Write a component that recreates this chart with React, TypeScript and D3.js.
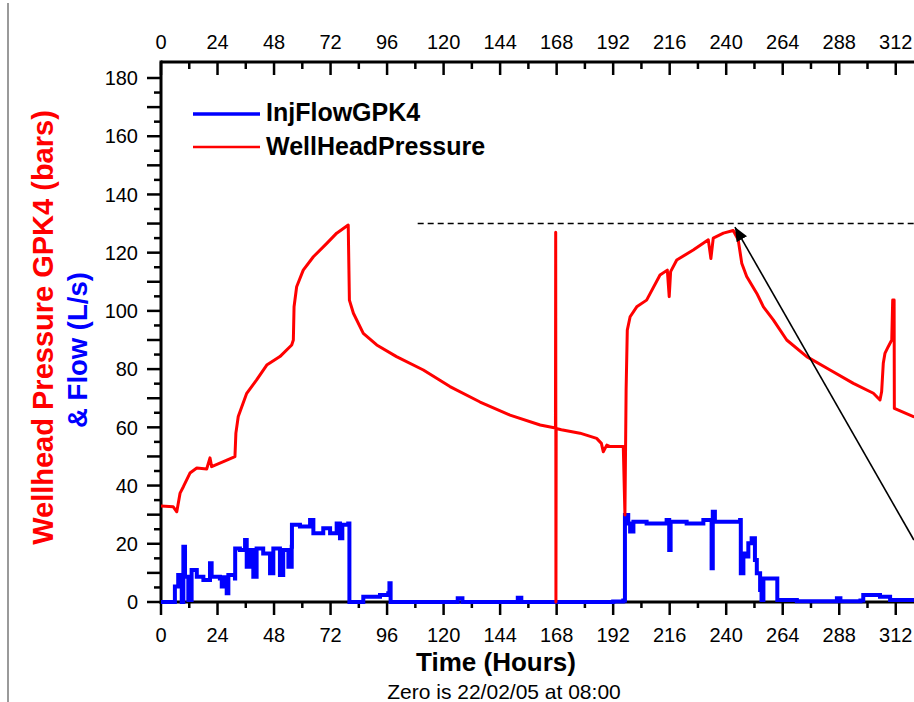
import React from "react";
import * as d3 from "d3";

// ---- data ----
const pressureHours = [0, 5.2, 6.7, 8.1, 9.5, 12.3, 15.2, 19.4, 20.8, 21.5, 26.5, 31.4, 31.8, 32.8, 36.4, 40.6, 44.9, 50.5, 55.5, 56.2, 56.5, 57.6, 60.4, 64.7, 70.4, 74.6, 79.5, 80, 81.7, 85.9, 91.6, 100, 111.4, 122.7, 135.5, 148.2, 161, 167.5, 167.6, 167.7, 167.8, 170, 177.9, 185, 187, 187.8, 189.3, 190.7, 196.3, 197, 197.5, 198, 199.2, 202, 206.2, 211.9, 215, 215.8, 216.4, 219, 226, 232.4, 233.5, 234.5, 238.8, 243, 245.1, 246.6, 248.7, 253, 255.8, 260, 265.7, 274.2, 284.1, 294, 302.5, 305.3, 306, 306.7, 307.4, 308.8, 310.3, 310.7, 311.3, 311.4, 319.5, 322];
const pressureValues = [33.0, 32.7, 31.0, 37.4, 39.6, 44.3, 46.0, 45.7, 49.5, 46.5, 48.2, 49.9, 58, 63.7, 71.7, 76.3, 81.4, 84.3, 88.3, 90, 101.4, 108.3, 114, 118.6, 123.2, 126.7, 129.5, 103.7, 99.2, 92.3, 88.3, 84.3, 79.7, 74, 68.7, 64.2, 60.8, 59.8, 127, 0, 59.6, 59.2, 58, 56.2, 54.5, 51.6, 53.9, 53.4, 53.4, 29.9, 72.8, 93.4, 98, 101.4, 103.7, 112.3, 114, 104.9, 113.5, 117.5, 120.9, 124.4, 118, 125, 126.7, 127.6, 124.4, 116.4, 111.8, 106, 101.4, 96.9, 90, 84.3, 79.7, 75.1, 71.7, 69.4, 72.2, 82, 85.4, 87.7, 90, 103.7, 103.7, 66.5, 63.7, 63];

const flowHours = [0, 5.2, 5.9, 7.3, 8.8, 9.5, 10.2, 11.6, 13, 15.2, 18, 20.8, 21.5, 25, 25.8, 26.5, 27.9, 28.6, 31.4, 31.5, 33.5, 35.7, 36.4, 37.8, 39.2, 40.6, 43.4, 46.3, 47.7, 50.5, 51.9, 54.1, 55.5, 55.6, 59, 63.3, 64.7, 68.9, 71.8, 74.6, 76, 77, 79.5, 80, 83, 85.9, 93, 96.5, 97, 97.5, 124, 126, 128, 150, 151.5, 153, 192, 196.3, 197, 198.4, 199.2, 200.6, 206.2, 214.7, 215.8, 216.4, 223.2, 230.3, 233.8, 234.3, 235.2, 241.6, 245.9, 246.2, 247.3, 248.7, 249.4, 250.8, 252.2, 253, 254.4, 255, 255.8, 260.7, 261.7, 270, 286, 287, 288.5, 297, 298.2, 305.3, 309.6, 322];
const flowValues = [0, 0, 5.3, 9.3, 0, 19, 8.7, 0.7, 11, 8.7, 7.6, 13.3, 8.7, 8.1, 5.3, 8.5, 3, 9.3, 8.1, 18.4, 17.9, 21.3, 12.1, 17.9, 8.7, 18.4, 16.7, 9.9, 18.4, 9.3, 17.9, 12.1, 19, 26.5, 25.9, 28.2, 23.6, 25.3, 23.6, 27, 21.9, 26.5, 27, 0, 0, 1.8, 2.4, 3, 6.4, 0, 0, 1.3, 0, 0, 1.5, 0, 0.2, 0.5, 29.9, 27, 24.2, 27.6, 27, 28.2, 17.9, 27.6, 27, 28.2, 11.6, 31, 27.6, 27.6, 28.2, 9.9, 16.7, 15.6, 20.2, 21.9, 14.4, 9.9, 4.1, 0.7, 8.1, 8.1, 0.7, 0.3, 0.3, 1.3, 0.3, 0.5, 2.4, 1.8, 0.7, 0.3];

const xTickLabels = [0, 24, 48, 72, 96, 120, 144, 168, 192, 216, 240, 264, 288, 312];
const yTickLabels = [0, 20, 40, 60, 80, 100, 120, 140, 160, 180];
const seriesNames = ["InjFlowGPK4", "WellHeadPressure"];
const seriesColors = ["#0000ff", "#ff0000"];
const refLevel = 130; // dashed reference line (bars)
const refStartHour = 109;
const arrowFrom = [319.7, 21.3];
const arrowTo = [243.7, 128.8];

export default function App() {
  const W = 914, H = 702;
  const x = d3.scaleLinear().domain([0, 320]).range([161, 914.6]);
  const y = d3.scaleLinear().domain([0, 180]).range([602, 78]);
  const topY = 62;
  const xEnd = 914;
  const font = "'Liberation Sans', Arial, Helvetica, sans-serif";

  const pressurePath = d3.line<[number, number]>()
    .x((d) => x(d[0]))
    .y((d) => y(d[1]))(pressureHours.map((h, i) => [h, pressureValues[i]]));
  const flowPath = d3.line<[number, number]>()
    .curve(d3.curveStepAfter)
    .x((d) => x(d[0]))
    .y((d) => y(d[1]))(flowHours.map((h, i) => [h, flowValues[i]]));

  const xMinor = d3.range(12, 324, 24);
  const yMinor = d3.range(0, 185, 5);

  return (
    <svg width={W} height={H} style={{ position: "absolute", left: 0, top: 0, background: "#fff" }} fontFamily={font}>
      <defs>
        <clipPath id="plot">
          <rect x={x(0)} y={topY} width={xEnd - x(0)} height={y(0) - topY + 4} />
        </clipPath>
        <marker id="arr" markerUnits="userSpaceOnUse" markerWidth={16} markerHeight={12} refX={14} refY={6} orient="auto">
          <path d="M0,0 L14,6 L0,12 Z" fill="#000" />
        </marker>
      </defs>
      {/* page frame */}
      <line x1={8} x2={8} y1={3} y2={H} stroke="#9a9a9a" strokeWidth={2} />

      {/* axes lines */}
      <line x1={x(0)} x2={xEnd} y1={topY} y2={topY} stroke="#000" strokeWidth={3} />
      <line x1={x(0)} x2={xEnd} y1={y(0)} y2={y(0)} stroke="#000" strokeWidth={3} />
      <line x1={x(0)} x2={x(0)} y1={topY - 1.5} y2={y(0) + 2} stroke="#000" strokeWidth={3} />

      {/* top axis ticks */}
      {xTickLabels.map((t) => (
        <g key={"tt" + t}>
          <line x1={x(t)} x2={x(t)} y1={topY} y2={topY + 13} stroke="#000" strokeWidth={2.5} />
          <text x={x(t)} y={49} textAnchor="middle" fontSize={20}>{t}</text>
        </g>
      ))}
      {xMinor.map((t) => (
        <line key={"tm" + t} x1={x(t)} x2={x(t)} y1={topY} y2={topY + 7} stroke="#000" strokeWidth={2.5} />
      ))}

      {/* bottom axis ticks */}
      {xTickLabels.map((t) => (
        <g key={"bt" + t}>
          <line x1={x(t)} x2={x(t)} y1={y(0)} y2={y(0) + 13} stroke="#000" strokeWidth={2.5} />
          <text x={x(t)} y={642} textAnchor="middle" fontSize={20}>{t}</text>
        </g>
      ))}
      {xMinor.map((t) => (
        <line key={"bm" + t} x1={x(t)} x2={x(t)} y1={y(0)} y2={y(0) + 6} stroke="#000" strokeWidth={2.5} />
      ))}

      {/* left axis ticks */}
      {yMinor.map((t) => (
        <line key={"lm" + t} x1={x(0)} x2={x(0) - (t % 10 === 0 ? 14 : 7)} y1={y(t)} y2={y(t)} stroke="#000" strokeWidth={2.5} />
      ))}
      {yTickLabels.map((t) => (
        <text key={"ll" + t} x={138} y={y(t)} dy="0.36em" textAnchor="end" fontSize={20}>{t}</text>
      ))}

      {/* data */}
      <g clipPath="url(#plot)">
        <path d={flowPath || ""} fill="none" stroke={seriesColors[0]} strokeWidth={4} strokeLinejoin="miter" />
        <path d={pressurePath || ""} fill="none" stroke={seriesColors[1]} strokeWidth={3} strokeLinejoin="round" />
      </g>

      {/* reference dashed line and arrow */}
      <line x1={x(refStartHour)} x2={xEnd} y1={y(refLevel)} y2={y(refLevel)} stroke="#000" strokeWidth={1.5} strokeDasharray="6,4" />
      <line x1={x(arrowFrom[0])} y1={y(arrowFrom[1])} x2={x(arrowTo[0])} y2={y(arrowTo[1])} stroke="#000" strokeWidth={1.6} markerEnd="url(#arr)" />

      {/* legend */}
      <line x1={193} x2={260} y1={114} y2={114} stroke={seriesColors[0]} strokeWidth={3.5} />
      <text x={266} y={121} fontSize={25} fontWeight="bold">{seriesNames[0]}</text>
      <line x1={193} x2={260} y1={147} y2={147} stroke={seriesColors[1]} strokeWidth={2.5} />
      <text x={266} y={155} fontSize={25} fontWeight="bold">{seriesNames[1]}</text>

      {/* axis titles */}
      <text transform={`translate(53,327.5) rotate(-90)`} textAnchor="middle" fontSize={29} fontWeight="bold" fill="#ff0000">Wellhead Pressure GPK4 (bars)</text>
      <text transform={`translate(87,350) rotate(-90)`} textAnchor="middle" fontSize={27.5} fontWeight="bold" fill="#0000ff">&amp; Flow (L/s)</text>
      <text x={496} y={671} textAnchor="middle" fontSize={26} fontWeight="bold">Time (Hours)</text>
      <text x={504} y={699} textAnchor="middle" fontSize={21}>Zero is 22/02/05 at 08:00</text>
    </svg>
  );
}
